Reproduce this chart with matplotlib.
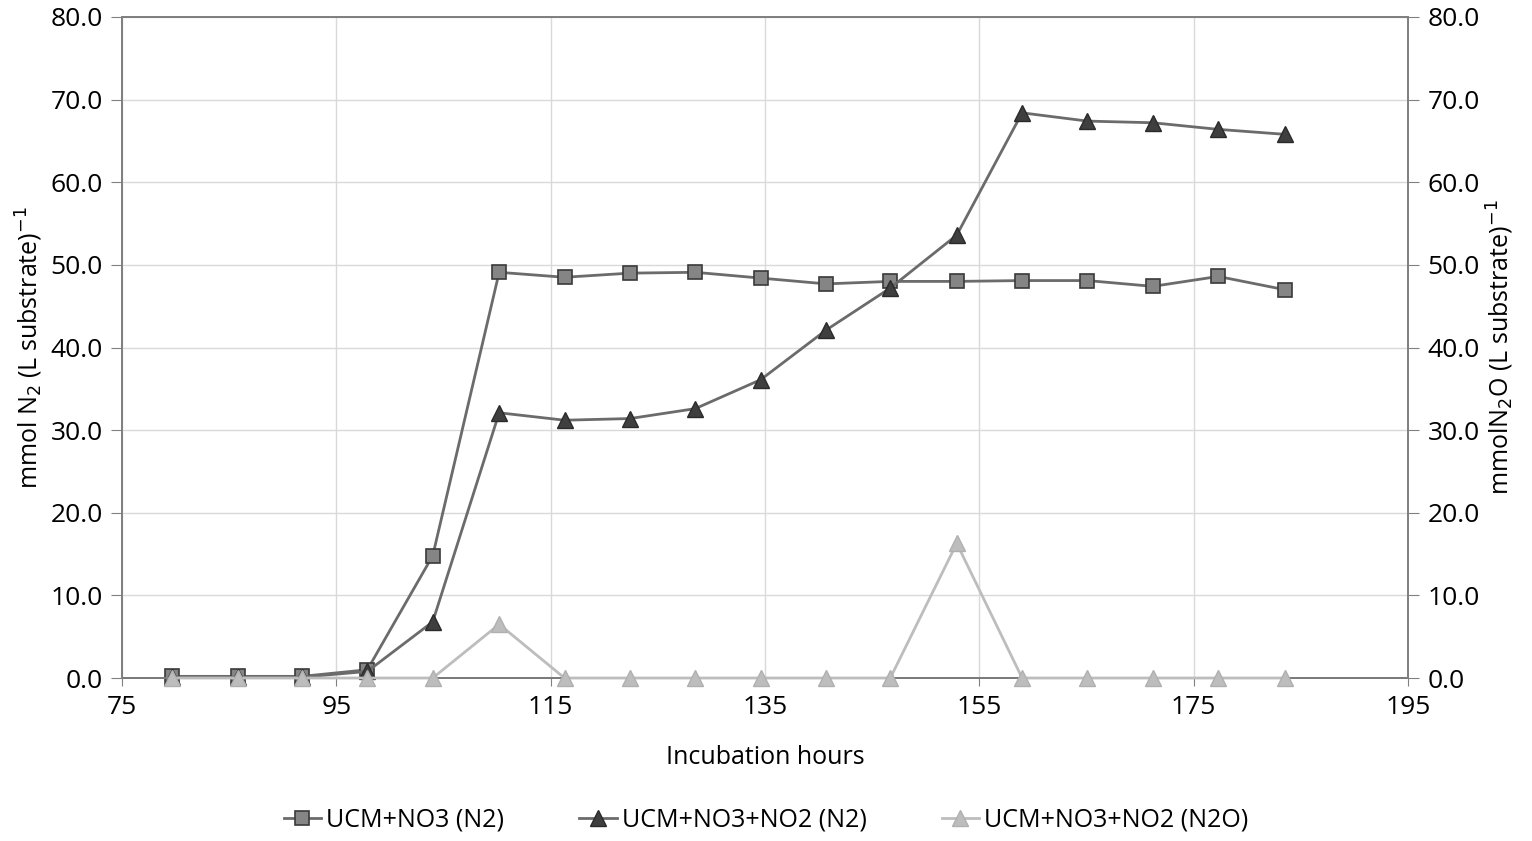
import matplotlib
matplotlib.use('Agg')
import matplotlib.pyplot as plt

hours = [79.7, 85.8, 91.8, 97.9, 104.0, 110.2, 116.3, 122.4, 128.5, 134.6,
         140.7, 146.7, 152.9, 159.0, 165.1, 171.2, 177.3, 183.5]
n2_no3 = [0.2, 0.2, 0.2, 1.0, 14.8, 49.1, 48.5, 49.0, 49.1, 48.4,
          47.7, 48.0, 48.0, 48.1, 48.1, 47.4, 48.6, 47.0]
n2_no3_no2 = [0.1, 0.1, 0.1, 0.8, 6.8, 32.1, 31.2, 31.4, 32.6, 36.1,
              42.1, 47.2, 53.6, 68.4, 67.4, 67.2, 66.4, 65.8]
n2o_no3_no2 = [0.0, 0.0, 0.0, 0.0, 0.0, 6.5, 0.0, 0.0, 0.0, 0.0,
               0.0, 0.0, 16.3, 0.0, 0.0, 0.0, 0.0, 0.0]

plt.rcParams['font.family'] = ['Open Sans', 'DejaVu Sans']

fig = plt.figure(figsize=(15.32, 8.41), dpi=100)
ax = fig.add_axes([0.0796, 0.1938, 0.8394, 0.786])
ax2 = ax.twinx()

ax.plot(hours, n2_no3, color='#6b6b6b', lw=2, marker='s', ms=10,
        mfc='#858585', mec='#3a3a3a', mew=1.2, label='UCM+NO3 (N2)',
        zorder=3, clip_on=False)
ax.plot(hours, n2_no3_no2, color='#6b6b6b', lw=2, marker='^', ms=11,
        mfc='#3f3f3f', mec='#2a2a2a', mew=1, label='UCM+NO3+NO2 (N2)',
        zorder=3, clip_on=False)
ax2.plot(hours, n2o_no3_no2, color='#bdbdbd', lw=2, marker='^', ms=11,
         mfc='#bdbdbd', mec='#b0b0b0', mew=1, label='UCM+NO3+NO2 (N2O)',
         zorder=3, clip_on=False)

for a in (ax, ax2):
    a.set_ylim(0, 80)
    a.set_yticks(range(0, 81, 10))
    a.set_yticklabels(['%.1f' % v for v in range(0, 81, 10)])
    a.tick_params(axis='y', labelsize=19, length=8, color='#808080', pad=6)
    for s in a.spines.values():
        s.set_color('#808080')
        s.set_linewidth(1.3)

ax.set_xlim(75, 195)
ax.set_xticks(range(75, 196, 20))
ax.tick_params(axis='x', labelsize=19, length=6, color='#808080', pad=6)
ax.grid(True, color='#d9d9d9', lw=1)
ax.set_axisbelow(True)
ax.spines['bottom'].set_color('#404040')

ax.set_xlabel('Incubation hours', fontsize=18, labelpad=18)
ax.set_ylabel(r'mmol N$_2$ (L substrate)$^{-1}$', fontsize=18, labelpad=4)
ax2.set_ylabel(r'mmolN$_2$O (L substrate)$^{-1}$', fontsize=18, labelpad=4)

h1, l1 = ax.get_legend_handles_labels()
h2, l2 = ax2.get_legend_handles_labels()
fig.legend(h1 + h2, l1 + l2, loc='center', bbox_to_anchor=(0.5, 0.025),
           ncol=3, frameon=False, fontsize=18, handlelength=1.5,
           handletextpad=0.2, columnspacing=3)

fig.savefig('out.png', dpi=100)
